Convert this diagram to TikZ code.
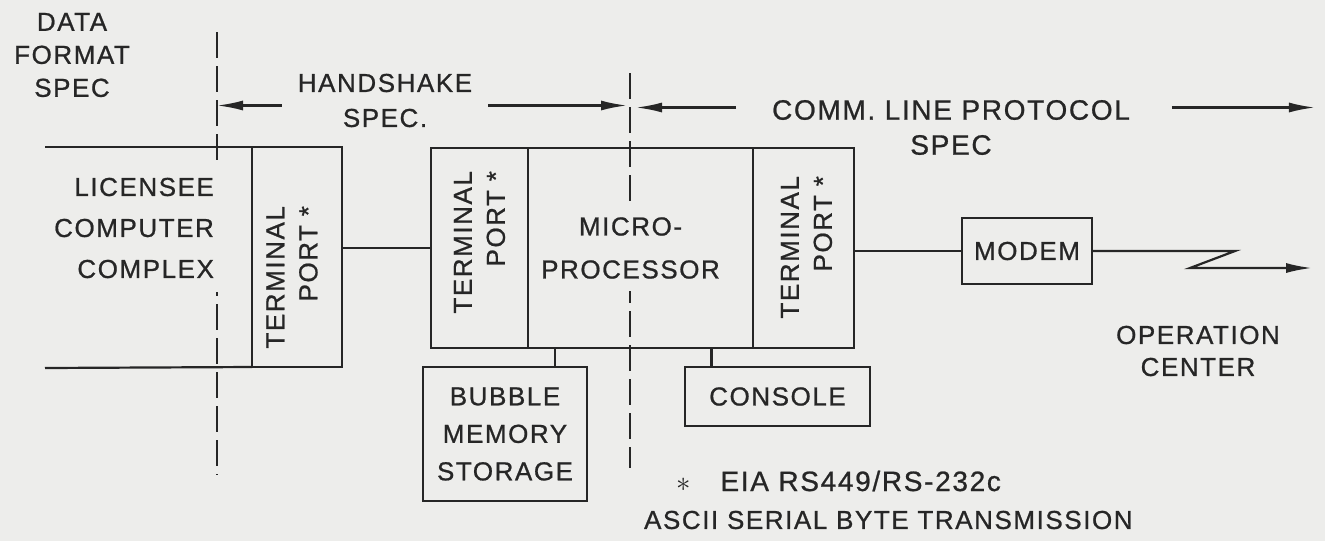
\documentclass[tikz,border=0pt]{standalone}
\usepackage{fontspec}
\setmainfont{Liberation Sans}[LetterSpace=6, FakeBold=0.8]
\usetikzlibrary{positioning,arrows.meta}
\definecolor{paper}{RGB}{237,237,235}
\definecolor{ink}{RGB}{38,38,38}

\begin{document}
\begin{tikzpicture}[
  x=0.5pt, y=-0.5pt, color=ink, line width=1.1pt,
  font=\fontsize{13}{18}\selectfont, >={Latex[length=13pt,width=5pt]},
  box/.style={draw, inner sep=0pt, outer sep=0pt, align=center},
  ptext/.style={rotate=90, align=right, anchor=east, inner sep=0pt, font=\fontsize{13}{16.5}\selectfont},
  lbl/.style={align=center, inner sep=1.5pt},
  bound/.style={line width=0.9pt, dash pattern=on 13pt off 4pt}]
  \path[use as bounding box, fill=paper] (0,0) rectangle (1325,541);

  % spec boundaries
  \coordinate (bd1 top) at (217,32);
  \coordinate (bd1 bot) at (217,475);
  \coordinate (bd2 top) at (630,73);
  \coordinate (bd2 bot) at (630,468);
  \draw[bound] (bd1 top) -- (bd1 bot);
  \draw[bound] (bd2 top) -- (bd2 bot);

  % licensee side
  \node[box, minimum width=45pt, minimum height=110pt] (tp1) at (297,257) {};
  \coordinate (lcc top) at (45,147);
  \coordinate (lcc bot) at (45,368);
  \node[lbl, fill=paper, inner xsep=3pt, inner ysep=7pt, anchor=east, align=right, font=\fontsize{13}{20.5}\selectfont] (lcc) at (221,228)
    {LICENSEE\\COMPUTER\\COMPLEX};

  % microprocessor unit
  \node[box, minimum width=48.5pt, minimum height=100pt, right=44.5pt of tp1, yshift=4.5pt] (tp2) {};
  \node[box, minimum width=112.5pt, minimum height=100pt, right=0pt of tp2] (micro) {};
  \node[box, minimum width=50.5pt, minimum height=100pt, right=0pt of micro] (tp3) {};
  \node[box, minimum width=65pt, minimum height=33pt, right=54pt of tp3, yshift=-1.5pt] (modem) {MODEM};
  \node[box, minimum width=82pt, minimum height=67pt, below=9.5pt of tp2.south west, anchor=north west, xshift=-4pt,
    font=\fontsize{13}{18.75}\selectfont] (bub) {BUBBLE\\MEMORY\\STORAGE};
  \node[box, minimum width=92.5pt, minimum height=29.5pt, below=9.5pt of micro.south east, anchor=north west, xshift=-34pt] (con) {CONSOLE};

  \node[ptext] (tp1 lbl) at ([xshift=-2.5pt,yshift=-29pt]tp1.north) {TERMINAL\\PORT *};
  \node[ptext] (tp2 lbl) at ([yshift=-11pt]tp2.north) {TERMINAL\\PORT *};
  \node[ptext] (tp3 lbl) at ([xshift=1.5pt,yshift=-13.5pt]tp3.north) {TERMINAL\\PORT *};
  \node[lbl, fill=paper, inner ysep=6pt, font=\fontsize{13}{21.5}\selectfont] (micro lbl) at ([xshift=-5pt]micro.center)
    {MICRO-\\PROCESSOR};

  % spec labels
  \node[lbl, font=\fontsize{13}{16.5}\selectfont] (dfs) at (72,55) {DATA\\FORMAT\\SPEC};
  \node[lbl, font=\fontsize{13}{17.5}\selectfont] (hs) at (385,100.5) {HANDSHAKE\\SPEC.};
  \node[lbl, font=\fontsize{14}{17.5}\selectfont] (cl) at (951,127.5) {COMM. LINE PROTOCOL\\SPEC};
  \node[lbl, font=\fontsize{13}{16}\selectfont] (opc) at (1198,351) {OPERATION\\CENTER};
  \node[lbl, anchor=west, font=\fontsize{14}{18}\selectfont] (note1) at (672,481) {$\ast$\hspace{15pt}EIA RS449/RS-232c};
  \node[lbl, anchor=west] (note2) at (640,520) {ASCII SERIAL BYTE TRANSMISSION};

  \draw (lcc top) -- (tp1.north west);
  \draw (lcc bot) -- (tp1.south west);
  \draw (tp1.east |- tp2.west) -- (tp2.west);
  \draw (tp3.east |- modem.west) -- (modem.west);
  \draw ([xshift=25pt]bub.north) -- ([xshift=25pt]bub.north |- micro.south);
  \draw ([xshift=-33pt]con.north) -- ([xshift=-33pt]con.north |- micro.south);
  \draw[->] (modem.east) -- ++(71.5pt,0) -- ++(-22.5pt,-8.5pt) -- ++(61pt,0) coordinate (link end);

  \draw[->] ([xshift=-6pt,yshift=-2.5pt]hs.west) -- ([yshift=-2.5pt]hs.west -| bd1 top);
  \draw[->] ([xshift=6pt,yshift=-2.5pt]hs.east) -- ([xshift=-1.5pt,yshift=-2.5pt]hs.east -| bd2 top);
  \draw[->] ([xshift=-16pt,yshift=10pt]cl.west) -- ([xshift=3pt,yshift=10pt]cl.west -| bd2 top);
  \draw[->] ([xshift=19pt,yshift=10pt]cl.east) -- ++(71.5pt,0);
\end{tikzpicture}
\end{document}
